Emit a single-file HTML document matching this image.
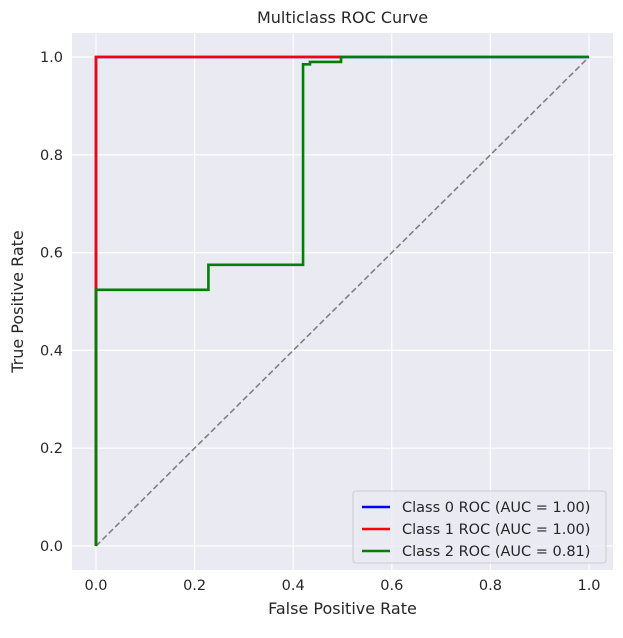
<!DOCTYPE html>
<html><head><meta charset="utf-8"><style>
body{margin:0;background:#fff;font-family:"Liberation Sans","DejaVu Sans",sans-serif;}
svg text{font-family:"DejaVu Sans","Liberation Sans",sans-serif;fill:#262626;}
</style></head><body>
<svg id="c" width="623" height="633"></svg>
<script>
const xTicks=[0,0.2,0.4,0.6,0.8,1.0];
const yTicks=[0,0.2,0.4,0.6,0.8,1.0];
const c0x=[0,0,0.5,1];const c0y=[0,1,1,1];
const c1x=[0,0,0.5];const c1y=[0,1,1];
const c2x=[0,0,0.228,0.228,0.42,0.42,0.434,0.434,0.497,0.497,1];
const c2y=[0,0.524,0.524,0.575,0.575,0.985,0.985,0.99,0.99,1,1];
const seriesNames=["Class 0 ROC (AUC = 1.00)","Class 1 ROC (AUC = 1.00)","Class 2 ROC (AUC = 0.81)"];
const colors=["#0000ff","#ff0000","#008000"];
const X=v=>96+v*493, Y=v=>546-v*489;
const L=72,T=33,R=613,B=570;
const svg=document.getElementById('c');const NS='http://www.w3.org/2000/svg';
function el(t,a,p){const e=document.createElementNS(NS,t);for(const k in a)e.setAttribute(k,a[k]);(p||svg).appendChild(e);return e;}
let e=el('rect',{x:L,y:T,width:R-L,height:B-T,fill:'#eaeaf2'});


xTicks.forEach(t=>{let g=el('line',{x1:X(t),x2:X(t),y1:T,y2:B,stroke:'#fff','stroke-width':1.2});


let tx=el('text',{x:X(t),y:B+20,'text-anchor':'middle','font-size':14.5});tx.textContent=t.toFixed(1);

});
yTicks.forEach(t=>{let g=el('line',{x1:L,x2:R,y1:Y(t),y2:Y(t),stroke:'#fff','stroke-width':1.2});


let tx=el('text',{x:L-9,y:Y(t)+5,'text-anchor':'end','font-size':14.5});tx.textContent=t.toFixed(1);

});
let d=el('line',{x1:X(0),y1:Y(0),x2:X(1),y2:Y(1),stroke:'#808080','stroke-width':1.6,'stroke-dasharray':'6,3'});


[[c0x,c0y],[c1x,c1y],[c2x,c2y]].forEach((s,i)=>{
let p=el('polyline',{points:s[0].map((v,j)=>X(v)+','+Y(s[1][j])).join(' '),fill:'none',stroke:colors[i],'stroke-width':2.6});

});
let t=el('text',{x:(L+R)/2,y:23,'text-anchor':'middle','font-size':16});t.textContent='Multiclass ROC Curve';


t=el('text',{x:(L+R)/2,y:614,'text-anchor':'middle','font-size':16});t.textContent='False Positive Rate';


t=el('text',{x:0,y:0,'text-anchor':'middle','font-size':16,transform:'translate(23,'+((T+B)/2)+') rotate(-90)'});t.textContent='True Positive Rate';


let lg=el('rect',{x:353,y:491,width:253,height:72,fill:'#eaeaf2',stroke:'#cccccc',rx:3,'fill-opacity':0.8});


seriesNames.forEach((n,i)=>{const y=507+i*22;
let l=el('line',{x1:362,x2:390,y1:y,y2:y,stroke:colors[i],'stroke-width':2.6});


let tx=el('text',{x:402,y:y+5,'font-size':14.5});tx.textContent=n;

});
</script></body></html>
